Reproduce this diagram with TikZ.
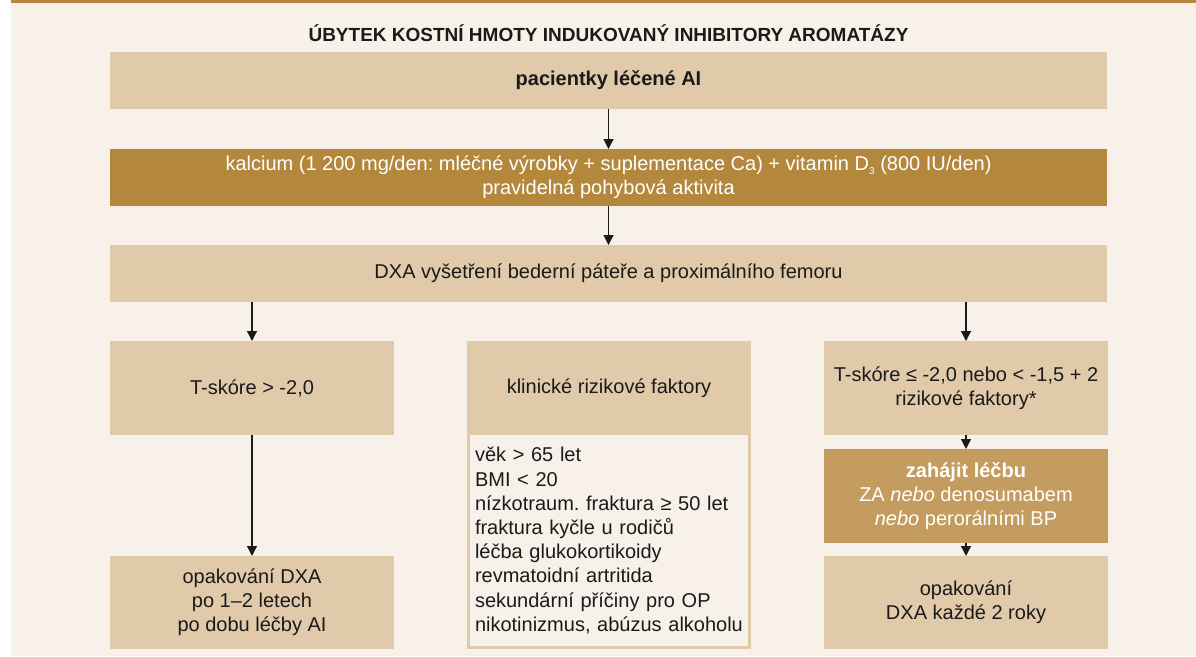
\documentclass[tikz,border=0pt]{standalone}
\usepackage{fontspec}
\setmainfont{Liberation Sans}
\usetikzlibrary{arrows.meta}
\definecolor{cream}{HTML}{F8F1EA}
\definecolor{topbar}{HTML}{B5883E}
\definecolor{tanL}{HTML}{E1CAAA}
\definecolor{goldD}{HTML}{B3883D}
\definecolor{goldM}{HTML}{C49C5F}
\definecolor{ink}{HTML}{1A1A1A}
\newcommand\mybody{\fontsize{20}{24.2}\selectfont\frenchspacing}
\newcommand\mytitle{\fontsize{19}{22}\selectfont\bfseries}
\newcommand\mysub[1]{\raisebox{-4pt}{\fontsize{10}{10}\selectfont #1}}
\begin{document}
\begin{tikzpicture}[x=1pt,y=-1pt,
  box/.style={fill=tanL, inner sep=0pt, outer sep=0pt, align=center, text=ink, font=\mybody, anchor=north west},
  darkbox/.style={box, fill=goldD, text=white},
  midbox/.style={box, fill=goldM, text=white},
  arr/.style={draw=ink, line width=1.2pt, -{Triangle[width=10pt,length=10pt]}}]
\useasboundingbox (0,0) rectangle (1196,656);
\fill[white] (0,0) rectangle (1196,656);
\fill[cream] (11,0) rectangle (1196,656);
\fill[topbar] (11,0) rectangle (1196,3);

\node[font=\mytitle, text=ink, anchor=base] (title) at (608.5,41) {ÚBYTEK KOSTNÍ HMOTY INDUKOVANÝ INHIBITORY AROMATÁZY};

\node[box, minimum width=997pt, minimum height=57pt, font=\mybody\bfseries] (pac) at (110,52) {pacientky léčené AI};
\node[darkbox, minimum width=997pt, minimum height=57pt] (cal) at (110,149) {kalcium (1 200 mg/den: mléčné výrobky + suplementace Ca) + vitamin D\mysub{3} (800 IU/den)\\pravidelná pohybová aktivita};
\node[box, minimum width=997pt, minimum height=57pt] (dxa) at (110,245) {DXA vyšetření bederní páteře a proximálního femoru};

\node[box, minimum width=284pt, minimum height=94pt] (tl) at (110,341) {T-skóre > -2,0};
\node[box, minimum width=284pt, minimum height=93pt] (bl) at (110,556) {opakování DXA\\po 1–2 letech\\po dobu léčby AI};

\node[box, minimum width=284pt, minimum height=94pt] (risk) at (467,341) {klinické rizikové faktory};
\fill[tanL] (467,435) rectangle (751,649);
\node[box, fill=cream, minimum width=278.6pt, minimum height=211.3pt, text width=268pt, align=left] (list) at (469.7,435) {věk > 65 let\\BMI < 20\\nízkotraum. fraktura ≥ 50 let\\fraktura kyčle u rodičů\\léčba glukokortikoidy\\revmatoidní artritida\\sekundární příčiny pro OP\\nikotinizmus, abúzus alkoholu};

\node[box, minimum width=284pt, minimum height=94pt] (tr) at (824,341) {T-skóre ≤ -2,0 nebo < -1,5 + 2\\rizikové faktory*};
\node[midbox, minimum width=284pt, minimum height=94pt] (za) at (824,449) {\textbf{zahájit léčbu}\\ZA \textit{nebo} denosumabem\\\textit{nebo} perorálními BP};
\node[box, minimum width=284pt, minimum height=93pt] (rr) at (824,556) {opakování\\DXA každé 2 roky};

\draw[arr] (pac.south) -- (cal.north);
\draw[arr] (cal.south) -- (dxa.north);
\draw[arr] (dxa.south -| tl.north) -- (tl.north);
\draw[arr] (dxa.south -| tr.north) -- (tr.north);
\draw[arr] (tl.south) -- (bl.north);
\draw[arr] (tr.south) -- (za.north);
\draw[arr] (za.south) -- (rr.north);
\end{tikzpicture}
\end{document}
